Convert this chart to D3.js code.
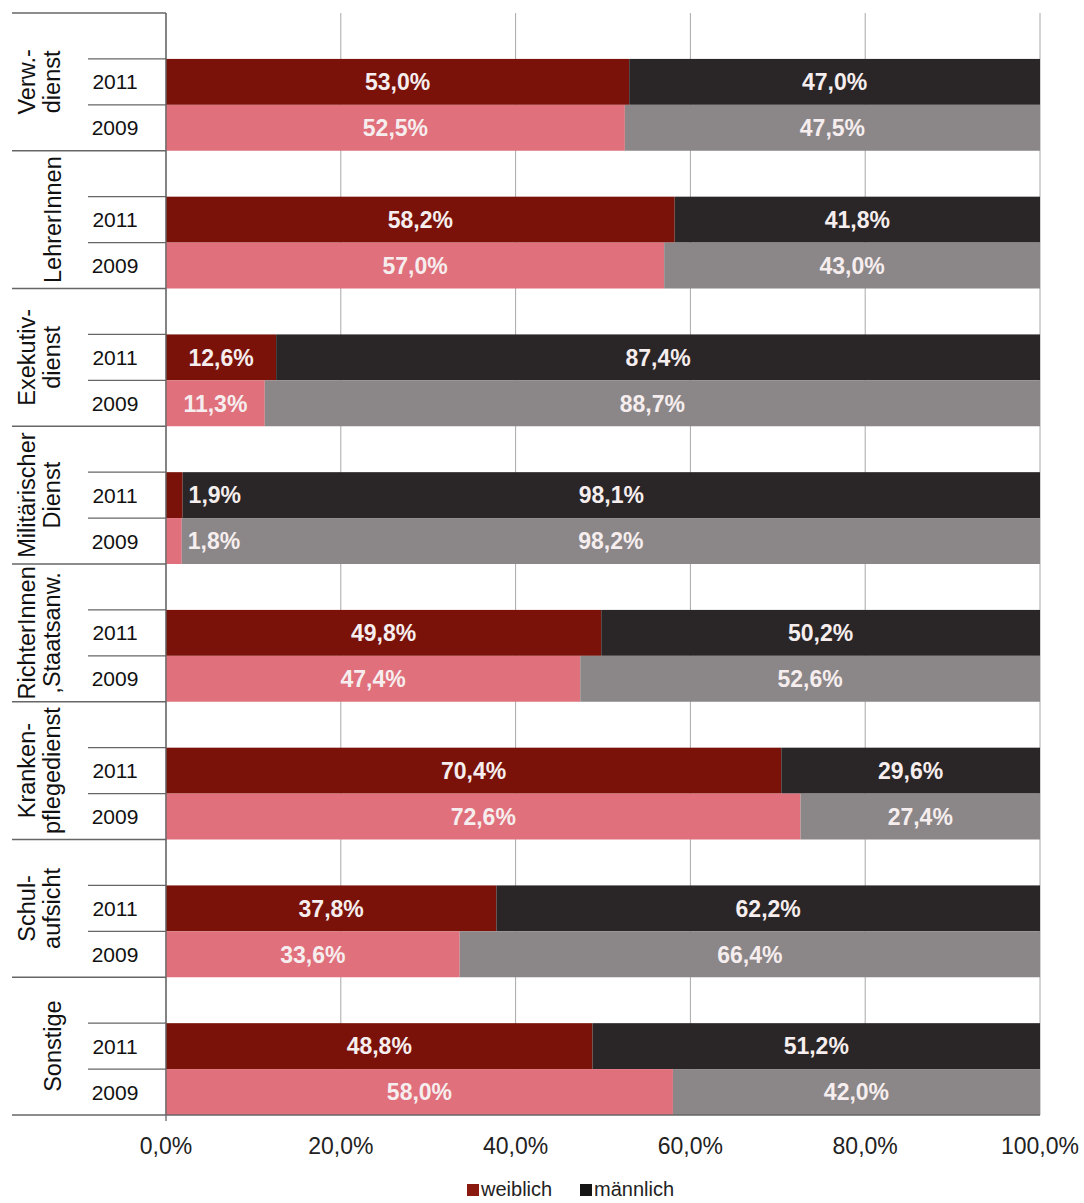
<!DOCTYPE html>
<html><head><meta charset="utf-8">
<script src="https://cdn.jsdelivr.net/npm/d3@7"></script>
<style>body{margin:0;background:#fff}svg{display:block}</style>
</head><body>
<svg id="c" width="1084" height="1203"></svg>
<script>
const groups = [
  ["Verw.-","dienst"],
  ["LehrerInnen"],
  ["Exekutiv-","dienst"],
  ["Militärischer","Dienst"],
  ["RichterInnen",",Staatsanw."],
  ["Kranken-","pflegedienst"],
  ["Schul-","aufsicht"],
  ["Sonstige"]
];
const years = ["2011","2009"];
const weiblich2011 = [53.0, 58.2, 12.6, 1.9, 49.8, 70.4, 37.8, 48.8];
const maennlich2011 = [47.0, 41.8, 87.4, 98.1, 50.2, 29.6, 62.2, 51.2];
const weiblich2009 = [52.5, 57.0, 11.3, 1.8, 47.4, 72.6, 33.6, 58.0];
const maennlich2009 = [47.5, 43.0, 88.7, 98.2, 52.6, 27.4, 66.4, 42.0];
const xTicks = [0, 20, 40, 60, 80, 100];
const seriesNames = ["weiblich","männlich"];

const colors = {
  w2011:"#7a1209", m2011:"#2a2526", w2009:"#e0707c", m2009:"#8b8688"
};

const svg = d3.select("#c");
const L = 166, R = 1040, T = 13, B = 1115;
const x = d3.scaleLinear().domain([0,100]).range([L,R]);
const slots = [];
groups.forEach((g,i)=>{ slots.push(i+"-e"); years.forEach(yr=>slots.push(i+"-"+yr)); });
const y = d3.scaleBand().domain(slots).range([T,B]).padding(0);

const fmt = v => v.toFixed(1).replace(".",",") + "%";
const FONT = "Liberation Sans, Arial, sans-serif";

// gridlines
svg.append("g").selectAll("line").data(xTicks).join("line")
  .attr("x1",d=>x(d)).attr("x2",d=>x(d)).attr("y1",T).attr("y2",B)
  .attr("stroke",d=>d===0?"#777":"#a8a8a8").attr("stroke-width",1);

// bars
const rows = [];
groups.forEach((g,i)=>{
  rows.push({key:i+"-2011", w:weiblich2011[i], m:maennlich2011[i], cw:colors.w2011, cm:colors.m2011});
  rows.push({key:i+"-2009", w:weiblich2009[i], m:maennlich2009[i], cw:colors.w2009, cm:colors.m2009});
});
const bg = svg.append("g");
rows.forEach(r=>{
  bg.append("rect").attr("x",x(0)).attr("y",y(r.key)).attr("width",x(r.w)-x(0)).attr("height",y.bandwidth()).attr("fill",r.cw);
  bg.append("rect").attr("x",x(r.w)).attr("y",y(r.key)).attr("width",x(100)-x(r.w)).attr("height",y.bandwidth()).attr("fill",r.cm);
});
// value labels
const lg = svg.append("g").attr("font-family",FONT).attr("font-size",23).attr("font-weight","bold").attr("fill","#f6eeee");
rows.forEach(r=>{
  const cy = y(r.key)+y.bandwidth()/2;
  const small = r.w < 5;
  lg.append("text").attr("x", small ? x(r.w)+6 : (x(0)+x(r.w))/2).attr("y",cy).attr("dy","0.36em")
    .attr("text-anchor", small ? "start" : "middle").text(fmt(r.w));
  lg.append("text").attr("x",(x(r.w)+x(100))/2).attr("y",cy).attr("dy","0.36em")
    .attr("text-anchor","middle").text(fmt(r.m));
});

// left category axis lines
const ax = svg.append("g").attr("stroke","#666").attr("stroke-width",1.3);
groups.forEach((g,i)=>{
  ax.append("line").attr("x1",12).attr("x2",L).attr("y1",y(i+"-e")).attr("y2",y(i+"-e"));
  ax.append("line").attr("x1",88).attr("x2",L).attr("y1",y(i+"-2011")).attr("y2",y(i+"-2011"));
  ax.append("line").attr("x1",88).attr("x2",L).attr("y1",y(i+"-2009")).attr("y2",y(i+"-2009"));
});
ax.append("line").attr("x1",12).attr("x2",R).attr("y1",B).attr("y2",B);
ax.append("line").attr("x1",L).attr("x2",L).attr("y1",T).attr("y2",B+6);

// year labels
const yl = svg.append("g").attr("font-family",FONT).attr("font-size",21).attr("fill","#111");
rows.forEach(r=>{
  yl.append("text").attr("x",115).attr("y",y(r.key)+y.bandwidth()/2).attr("dy","0.36em")
    .attr("text-anchor","middle").text(r.key.split("-")[1]);
});
// group labels
const gl = svg.append("g").attr("font-family",FONT).attr("font-size",23.5).attr("fill","#111");
groups.forEach((g,i)=>{
  const cy = y(i+"-e") + y.bandwidth()*1.5;
  const xs = g.length===1 ? [53] : [27,52];
  g.forEach((t,j)=>{
    gl.append("text").attr("transform",`translate(${xs[j]},${cy}) rotate(-90)`)
      .attr("dy","0.36em").attr("text-anchor","middle").text(t);
  });
});

// x axis tick labels
const xa = svg.append("g").attr("font-family",FONT).attr("font-size",23).attr("fill","#222");
xTicks.forEach(t=>{
  xa.append("text").attr("x",x(t)).attr("y",1146).attr("dy","0.36em").attr("text-anchor","middle").text(fmt(t));
});

// legend
const leg = svg.append("g").attr("font-family",FONT).attr("font-size",20).attr("fill","#222");
const legItems = [{n:seriesNames[0], c:"#8a1a10", x:467},{n:seriesNames[1], c:"#151515", x:580}];
legItems.forEach(it=>{
  leg.append("rect").attr("x",it.x).attr("y",1184).attr("width",12).attr("height",12).attr("fill",it.c);
  leg.append("text").attr("x",it.x+14).attr("y",1196).text(it.n);
});
</script>
</body></html>
